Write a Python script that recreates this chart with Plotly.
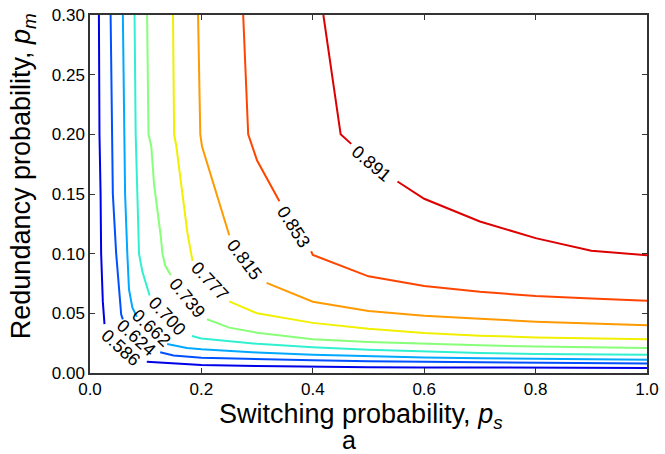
import plotly.graph_objects as go

# Contour levels and colours
levels = ["0.586", "0.624", "0.662", "0.700", "0.739", "0.777", "0.815", "0.853", "0.891"]
colors = ["#0000e8", "#0050ff", "#00a8ff", "#30f0d0", "#88ff78", "#f0f000", "#ff9a00", "#ff4500", "#dd0000"]

# Axis ticks
x_ticks = [0.0, 0.2, 0.4, 0.6, 0.8, 1.0]
x_ticktext = ["0.0", "0.2", "0.4", "0.6", "0.8", "1.0"]
y_ticks = [0.0, 0.05, 0.10, 0.15, 0.20, 0.25, 0.30]
y_ticktext = ["0.00", "0.05", "0.10", "0.15", "0.20", "0.25", "0.30"]

# Contour paths (ps, pm); None marks the gap left for the label
c586_x = [0.016, 0.017, 0.019, 0.020, 0.023, 0.026, None, 0.102, 0.15, 0.20, 0.30, 0.40, 0.50, 0.60, 0.70, 0.80, 0.90, 1.0]
c586_y = [0.30, 0.20, 0.15, 0.10, 0.06, 0.041, None, 0.0095, 0.0080, 0.0068, 0.0058, 0.0052, 0.0049, 0.0047, 0.0045, 0.0044, 0.0043, 0.0042]

c624_x = [0.037, 0.039, 0.041, 0.047, 0.052, 0.056, 0.059, None, 0.126, 0.15, 0.20, 0.30, 0.40, 0.50, 0.60, 0.70, 0.80, 0.90, 1.0]
c624_y = [0.30, 0.20, 0.15, 0.10, 0.07, 0.049, 0.045, None, 0.0174, 0.0147, 0.0128, 0.0115, 0.0106, 0.0098, 0.0093, 0.0088, 0.0084, 0.0081, 0.0079]

c662_x = [0.059, 0.061, 0.063, 0.067, 0.070, 0.076, 0.084, None, 0.1385, 0.174, 0.20, 0.30, 0.40, 0.50, 0.60, 0.70, 0.80, 0.90, 1.0]
c662_y = [0.30, 0.20, 0.15, 0.10, 0.07, 0.055, 0.047, None, 0.0243, 0.021, 0.0200, 0.0172, 0.0153, 0.0140, 0.0130, 0.0123, 0.0118, 0.0114, 0.0112]

c700_x = [0.080, 0.082, 0.085, 0.088, 0.094, 0.100, 0.107, None, 0.183, 0.20, 0.30, 0.40, 0.50, 0.60, 0.70, 0.80, 0.90, 1.0]
c700_y = [0.30, 0.20, 0.15, 0.10, 0.085, 0.075, 0.065, None, 0.031, 0.029, 0.0245, 0.0215, 0.0195, 0.0178, 0.0167, 0.0160, 0.0156, 0.0153]

c739_x = [0.1025, 0.105, 0.110, 0.115, 0.127, 0.130, 0.135, 0.145, None, 0.21, 0.25, 0.30, 0.40, 0.50, 0.60, 0.70, 0.80, 0.90, 1.0]
c739_y = [0.30, 0.20, 0.19, 0.158, 0.115, 0.10, 0.09, 0.082, None, 0.045, 0.038, 0.0338, 0.0283, 0.026, 0.0245, 0.0232, 0.0222, 0.0215, 0.021]

c777_x = [0.149, 0.151, 0.155, 0.175, 0.184, None, 0.25, 0.30, 0.40, 0.50, 0.60, 0.70, 0.80, 0.90, 1.0]
c777_y = [0.30, 0.20, 0.19, 0.117, 0.094, None, 0.060, 0.050, 0.042, 0.037, 0.0335, 0.0313, 0.0298, 0.0289, 0.0283]

c815_x = [0.194, 0.198, 0.201, 0.25, None, 0.317, 0.40, 0.50, 0.60, 0.70, 0.80, 0.90, 1.0]
c815_y = [0.30, 0.20, 0.19, 0.1155, None, 0.0755, 0.0597, 0.052, 0.048, 0.0455, 0.043, 0.0415, 0.040]

c853_x = [0.275, 0.284, 0.30, 0.34, None, 0.397, 0.40, 0.50, 0.60, 0.70, 0.80, 0.90, 1.0]
c853_y = [0.30, 0.20, 0.178, 0.144, None, 0.102, 0.099, 0.081, 0.073, 0.068, 0.0645, 0.0625, 0.0605]

c891_x = [0.419, 0.45, 0.469, None, 0.552, 0.60, 0.70, 0.80, 0.90, 1.0]
c891_y = [0.30, 0.20, 0.192, None, 0.1605, 0.146, 0.127, 0.113, 0.1025, 0.0987]

# Label positions and rotation (degrees, clockwise)
label_x = [0.0556, 0.0838, 0.1104, 0.1385, 0.1746, 0.2146, 0.278, 0.3656, 0.506]
label_y = [0.0208, 0.0297, 0.0379, 0.048, 0.0631, 0.0767, 0.095, 0.1224, 0.1755]
label_angle = [42, 42, 43, 47, 51, 47, 53, 57, 40]

xs = [c586_x, c624_x, c662_x, c700_x, c739_x, c777_x, c815_x, c853_x, c891_x]
ys = [c586_y, c624_y, c662_y, c700_y, c739_y, c777_y, c815_y, c853_y, c891_y]

FONT = "Liberation Sans, Arial, Helvetica, sans-serif"

fig = go.Figure()
for lvl, col, x, y in zip(levels, colors, xs, ys):
    fig.add_trace(go.Scatter(x=x, y=y, mode="lines", name=lvl,
                             line=dict(color=col, width=2), connectgaps=False,
                             showlegend=False, hoverinfo="skip"))

for lvl, lx, ly, ang in zip(levels, label_x, label_y, label_angle):
    fig.add_annotation(x=lx, y=ly, text=lvl, showarrow=False, textangle=ang,
                       font=dict(family=FONT, size=18, color="black"),
                       xanchor="center", yanchor="middle")

title_font = dict(family=FONT, size=27, color="black")
# x-axis title
fig.add_annotation(x=0.4867, y=-0.119, xref="paper", yref="paper",
                   text="Switching probability, <i>p<sub>s</sub></i>",
                   showarrow=False, font=title_font, xanchor="center", yanchor="middle")
# y-axis title
fig.add_annotation(x=-0.119, y=0.549, xref="paper", yref="paper",
                   text="Redundancy probability, <i>p<sub>m</sub></i>", textangle=-90,
                   showarrow=False, font=title_font, xanchor="center", yanchor="middle")
# panel letter
fig.add_annotation(x=0.4645, y=-0.188, xref="paper", yref="paper", text="a",
                   showarrow=False, font=dict(family=FONT, size=25, color="black"),
                   xanchor="center", yanchor="middle")

axis_common = dict(showline=True, linecolor="#333333", linewidth=1.5, mirror="ticks",
                   ticks="inside", ticklen=5, tickcolor="#333333", tickwidth=1.2,
                   showgrid=False, zeroline=False, ticklabeloverflow="allow",
                   tickfont=dict(family=FONT, size=17, color="black"))

fig.update_xaxes(range=[0, 1], tickmode="array", tickvals=x_ticks, ticktext=x_ticktext,
                 **axis_common)
fig.update_yaxes(range=[0, 0.30], tickmode="array", tickvals=y_ticks, ticktext=y_ticktext,
                 **axis_common)

fig.update_layout(width=665, height=454, margin=dict(l=90, r=12, t=6, b=81),
                  paper_bgcolor="white", plot_bgcolor="white")

fig.write_html("out.html", config={"displayModeBar": False},
               post_script="document.body.style.margin='0px';document.body.style.overflow='hidden';")
